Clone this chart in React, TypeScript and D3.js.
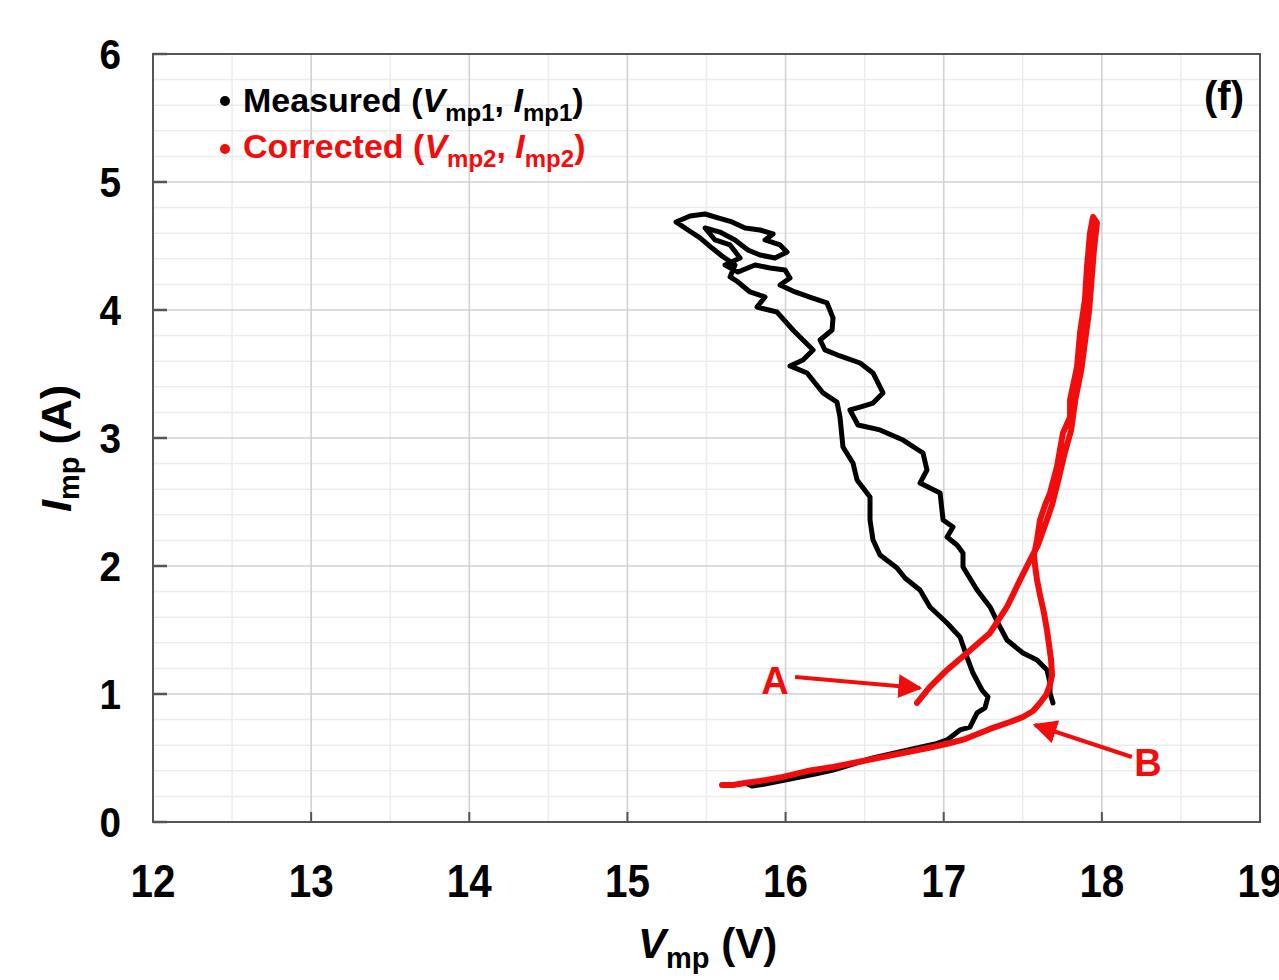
import React from 'react';
import * as d3 from 'd3';

// Axis ticks
const X_TICKS = [12, 13, 14, 15, 16, 17, 18, 19];
const Y_TICKS = [0, 1, 2, 3, 4, 5, 6];

// Measured maximum power point trajectory (V, A)
const measuredV = [
  15.744, 15.788, 15.870, 15.965, 16.091, 16.186, 16.300, 16.426, 16.553, 16.692,
  16.831, 16.945, 17.021, 17.103, 17.166, 17.211, 17.261, 17.280, 17.242, 17.185,
  17.147, 17.103, 17.021, 16.913, 16.850, 16.755, 16.705, 16.597, 16.553, 16.534,
  16.534, 16.452, 16.426, 16.363, 16.344, 16.325, 16.237, 16.136, 16.028, 16.110,
  16.174, 16.091, 16.047, 15.946, 15.819, 15.870, 15.775, 15.699, 15.649, 15.680,
  15.598, 15.535, 15.459, 15.383, 15.307, 15.396, 15.491, 15.573, 15.661, 15.744,
  15.838, 15.921, 15.870, 15.965, 16.009, 15.933, 15.838, 15.762, 15.680, 15.585,
  15.491, 15.554, 15.649, 15.712, 15.617, 15.699, 15.807, 15.902, 15.996, 16.028,
  15.965, 16.060, 16.167, 16.262, 16.300, 16.294, 16.218, 16.249, 16.344, 16.471,
  16.553, 16.616, 16.553, 16.471, 16.407, 16.458, 16.597, 16.743, 16.869, 16.894,
  16.850, 16.977, 16.996, 17.059, 17.021, 17.084, 17.122, 17.122, 17.211, 17.293,
  17.356, 17.400, 17.501, 17.590, 17.653, 17.672, 17.672, 17.691,
];
const measuredI = [
  0.305, 0.281, 0.297, 0.320, 0.352, 0.375, 0.406, 0.453, 0.500, 0.539,
  0.578, 0.609, 0.641, 0.719, 0.742, 0.852, 0.891, 0.977, 1.031, 1.164,
  1.289, 1.445, 1.555, 1.680, 1.813, 1.906, 1.984, 2.086, 2.203, 2.359,
  2.539, 2.672, 2.805, 2.930, 3.164, 3.281, 3.352, 3.508, 3.563, 3.609,
  3.688, 3.789, 3.844, 3.984, 4.023, 4.102, 4.141, 4.219, 4.258, 4.352,
  4.422, 4.484, 4.563, 4.625, 4.688, 4.734, 4.750, 4.719, 4.688, 4.641,
  4.625, 4.594, 4.547, 4.508, 4.453, 4.406, 4.430, 4.469, 4.547, 4.609,
  4.641, 4.547, 4.508, 4.406, 4.352, 4.297, 4.352, 4.328, 4.313, 4.250,
  4.195, 4.141, 4.094, 4.055, 3.938, 3.844, 3.766, 3.688, 3.641, 3.586,
  3.508, 3.352, 3.273, 3.242, 3.219, 3.102, 3.063, 2.984, 2.883, 2.750,
  2.648, 2.570, 2.359, 2.305, 2.227, 2.164, 2.102, 1.992, 1.813, 1.680,
  1.523, 1.422, 1.320, 1.266, 1.188, 1.086, 1.008, 0.930,
];

// Corrected maximum power point trajectory (V, A)
const correctedV = [
  15.598, 15.668, 15.744, 15.838, 15.984, 16.136, 16.300, 16.458, 16.616, 16.774,
  16.932, 17.040, 17.135, 17.293, 17.419, 17.501, 17.565, 17.609, 17.647, 17.672,
  17.685, 17.679, 17.666, 17.653, 17.634, 17.609, 17.590, 17.577, 17.571, 17.590,
  17.609, 17.641, 17.672, 17.716, 17.754, 17.799, 17.799, 17.843, 17.862, 17.893,
  17.906, 17.925, 17.944, 17.969, 17.950, 17.935, 17.920, 17.895, 17.870, 17.832,
  17.806, 17.762, 17.725, 17.685, 17.641, 17.596, 17.546, 17.483, 17.400, 17.293,
  17.147, 17.021, 16.913, 16.831,
];
const correctedI = [
  0.289, 0.289, 0.305, 0.320, 0.352, 0.398, 0.430, 0.469, 0.508, 0.547,
  0.586, 0.617, 0.648, 0.727, 0.781, 0.820, 0.867, 0.930, 0.992, 1.070,
  1.148, 1.266, 1.383, 1.500, 1.633, 1.773, 1.891, 2.008, 2.086, 2.203,
  2.359, 2.477, 2.570, 2.773, 3.039, 3.164, 3.297, 3.555, 3.820, 4.078,
  4.336, 4.602, 4.727, 4.680, 4.469, 4.234, 4.000, 3.766, 3.531, 3.297,
  3.063, 2.867, 2.672, 2.477, 2.320, 2.164, 2.047, 1.891, 1.680, 1.477,
  1.320, 1.188, 1.055, 0.930,
];

// Annotation arrows: label, label position, arrow start and arrow tip (V, A)
const annotations = [
  { label: 'A', at: [15.933, 1.109], from: [16.06, 1.133], to: [16.85, 1.047] },
  { label: 'B', at: [18.292, 0.469], from: [18.19, 0.508], to: [17.577, 0.758] },
];

const RED = '#f20d0d';
const FONT = '"Liberation Sans", Arial, Helvetica, sans-serif';

export default function App() {
  const W = 1279;
  const H = 980;
  const x = d3.scaleLinear().domain([12, 19]).range([153, 1260]);
  const y = d3.scaleLinear().domain([0, 6]).range([822, 54]);

  const minorX = d3.range(12.5, 19, 1);
  const minorY = d3.range(0, 6.0001, 0.2).filter((v) => Math.abs(v - Math.round(v)) > 1e-6);

  const line = d3
    .line<[number, number]>()
    .x((d) => x(d[0]))
    .y((d) => y(d[1]));

  const measured = measuredV.map((v, i) => [v, measuredI[i]] as [number, number]);
  const corrected = correctedV.map((v, i) => [v, correctedI[i]] as [number, number]);

  const [x0, x1] = x.range();
  const [y0, y1] = y.range();

  return (
    <svg
      width={W}
      height={H}
      viewBox={`0 0 ${W} ${H}`}
      style={{ position: 'absolute', left: 0, top: 0, background: '#fff' }}
      fontFamily={FONT}
    >
      <defs>
        <marker
          id="arrowRed"
          viewBox="0 0 10 10"
          refX="9"
          refY="5"
          markerWidth="6"
          markerHeight="6"
          markerUnits="strokeWidth"
          orient="auto"
        >
          <path d="M0,0 L10,5 L0,10 z" fill={RED} />
        </marker>
      </defs>

      {/* minor grid */}
      {minorX.map((v) => (
        <line key={`mx${v}`} x1={x(v)} x2={x(v)} y1={y1} y2={y0} stroke="#ececec" strokeWidth={1.5} />
      ))}
      {minorY.map((v) => (
        <line key={`my${v}`} x1={x0} x2={x1} y1={y(v)} y2={y(v)} stroke="#ececec" strokeWidth={1.5} />
      ))}
      {/* major grid */}
      {X_TICKS.map((v) => (
        <line key={`gx${v}`} x1={x(v)} x2={x(v)} y1={y1} y2={y0} stroke="#d2d2d2" strokeWidth={1.6} />
      ))}
      {Y_TICKS.map((v) => (
        <line key={`gy${v}`} x1={x0} x2={x1} y1={y(v)} y2={y(v)} stroke="#d2d2d2" strokeWidth={1.6} />
      ))}

      {/* frame */}
      <rect x={x0} y={y1} width={x1 - x0} height={y0 - y1} fill="none" stroke="#555" strokeWidth={2} />

      {/* inward ticks */}
      {Y_TICKS.map((v) => (
        <line key={`ty${v}`} x1={x0} x2={x0 + 14} y1={y(v)} y2={y(v)} stroke="#555" strokeWidth={2.5} />
      ))}
      {X_TICKS.map((v) => (
        <line key={`tx${v}`} x1={x(v)} x2={x(v)} y1={y0} y2={y0 - 10} stroke="#555" strokeWidth={2} />
      ))}

      {/* tick labels (narrow bold face) */}
      {Y_TICKS.map((v) => (
        <text
          key={`ly${v}`}
          transform={`translate(121,${y(v) + 15}) scale(0.9,1)`}
          textAnchor="end"
          fontSize={43}
          fontWeight="bold"
          fill="#000"
        >
          {v}
        </text>
      ))}
      {X_TICKS.map((v) => (
        <text
          key={`lx${v}`}
          transform={`translate(${x(v)},897) scale(0.86,1)`}
          textAnchor="middle"
          fontSize={47}
          fontWeight="bold"
          fill="#000"
        >
          {v}
        </text>
      ))}

      {/* axis titles */}
      <text x={638} y={958} fontSize={42} fontWeight="bold" fill="#000">
        <tspan fontStyle="italic">V</tspan>
        <tspan fontSize={29} dy={10}>mp</tspan>
        <tspan dy={-10}> (V)</tspan>
      </text>
      <text transform="translate(71,512) rotate(-90)" fontSize={43} fontWeight="bold" fill="#000">
        <tspan fontStyle="italic">I</tspan>
        <tspan fontSize={29} dy={8}>mp</tspan>
        <tspan dy={-8}> (A)</tspan>
      </text>

      {/* series */}
      <path
        d={line(measured) || ''}
        fill="none"
        stroke="#000"
        strokeWidth={5}
        strokeLinejoin="round"
        strokeLinecap="round"
      />
      <path
        d={line(corrected) || ''}
        fill="none"
        stroke={RED}
        strokeWidth={6}
        strokeLinejoin="round"
        strokeLinecap="round"
      />

      {/* annotations */}
      {annotations.map((a) => (
        <g key={a.label}>
          <line
            x1={x(a.from[0])}
            y1={y(a.from[1])}
            x2={x(a.to[0])}
            y2={y(a.to[1])}
            stroke={RED}
            strokeWidth={4}
            markerEnd="url(#arrowRed)"
          />
          <text
            x={x(a.at[0])}
            y={y(a.at[1]) + 14}
            textAnchor="middle"
            fontSize={38}
            fontWeight="bold"
            fill={RED}
          >
            {a.label}
          </text>
        </g>
      ))}

      {/* panel label */}
      <text x={1224} y={110} textAnchor="middle" fontSize={40} fontWeight="bold" fill="#000">
        (f)
      </text>

      {/* legend */}
      <circle cx={225} cy={101} r={5} fill="#000" />
      <text x={243} y={112} fontSize={34} fontWeight="bold" fill="#000">
        <tspan>Measured (</tspan>
        <tspan fontStyle="italic">V</tspan>
        <tspan fontSize={24} dy={9}>mp1</tspan>
        <tspan dy={-9}>, </tspan>
        <tspan fontStyle="italic">I</tspan>
        <tspan fontSize={24} dy={9}>mp1</tspan>
        <tspan dy={-9}>)</tspan>
      </text>
      <circle cx={225} cy={149} r={5} fill={RED} />
      <text x={243} y={158} fontSize={34} fontWeight="bold" fill={RED}>
        <tspan>Corrected (</tspan>
        <tspan fontStyle="italic">V</tspan>
        <tspan fontSize={24} dy={9}>mp2</tspan>
        <tspan dy={-9}>, </tspan>
        <tspan fontStyle="italic">I</tspan>
        <tspan fontSize={24} dy={9}>mp2</tspan>
        <tspan dy={-9}>)</tspan>
      </text>
    </svg>
  );
}
